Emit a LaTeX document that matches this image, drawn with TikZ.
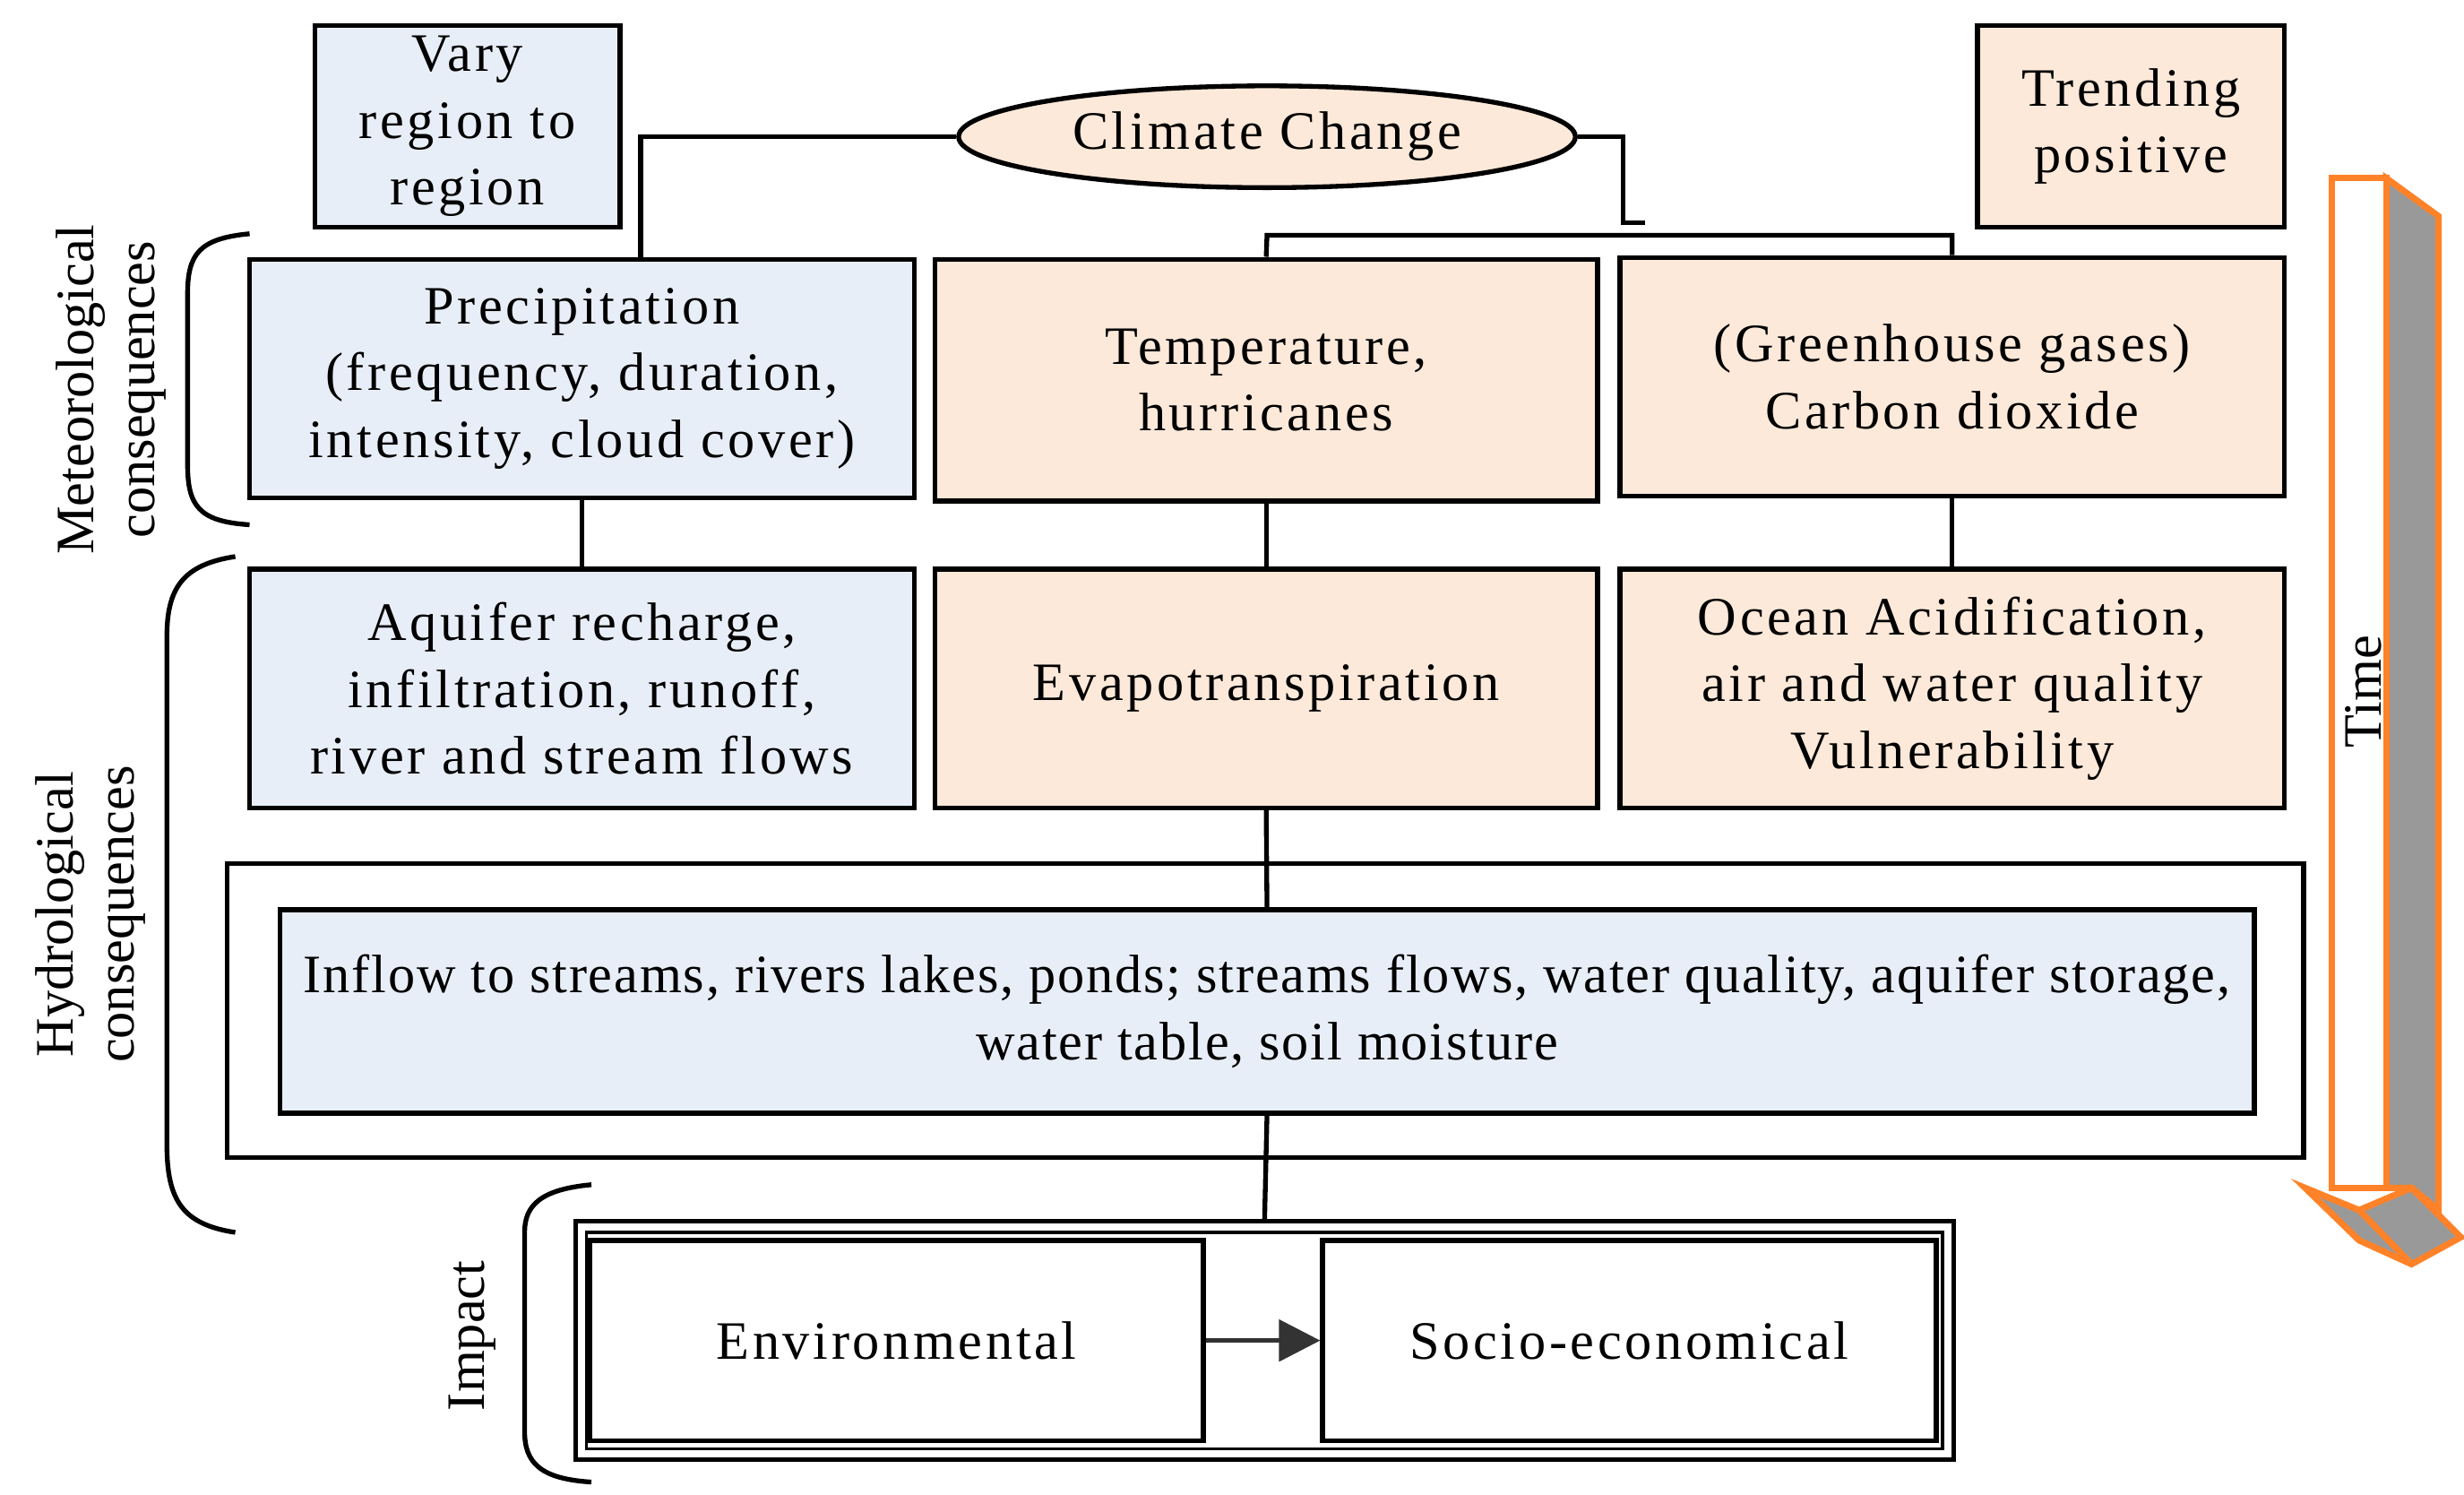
\documentclass[tikz,border=0pt]{standalone}
\usepackage{fontspec}
\setmainfont{Liberation Serif}
\newfontfamily\wide[LetterSpace=6]{Liberation Serif}
\newfontfamily\midw[LetterSpace=3]{Liberation Serif}
\usetikzlibrary{shapes.geometric,arrows.meta}
\definecolor{bl}{HTML}{E8EEF7}
\definecolor{pe}{HTML}{FDE9D9}
\definecolor{orn}{HTML}{FF8228}
\begin{document}
\begin{tikzpicture}[x=0.5pt,y=-0.5pt,line width=1.5pt,
  font=\wide\fontsize{17}{21}\selectfont,
  box/.style={draw,align=center,inner sep=0pt},
  lab/.style={font=\fontsize{17}{19}\selectfont,align=center,rotate=90}]
\useasboundingbox (0,0) rectangle (1550,940);
% top boxes
\node[box,fill=bl,minimum width=96pt,minimum height=63.5pt] (vary) at (294,79.5) {Vary\\region to\\region};
\node[box,fill=pe,minimum width=96.5pt,minimum height=63.5pt] (trend) at (1340.5,79.5) {Trending\\positive};
\node[draw,ellipse,fill=pe,minimum width=194pt,minimum height=32pt,inner sep=0pt] (cc) at (797,86) {Climate Change};
% row 1
\node[box,fill=bl,minimum width=209pt,minimum height=75pt] (pre) at (366,238) {Precipitation\\(frequency, duration,\\ intensity, cloud cover)};
\node[box,fill=pe,minimum width=208.5pt,minimum height=76pt] (tem) at (796.5,239) {Temperature,\\hurricanes};
\node[box,fill=pe,minimum width=209pt,minimum height=75pt] (ghg) at (1228,237) {(Greenhouse gases)\\Carbon dioxide};
% row 2
\node[box,fill=bl,minimum width=209pt,minimum height=75pt] (aq) at (366,433) {Aquifer recharge,\\infiltration, runoff,\\river and stream flows};
\node[box,fill=pe,minimum width=208.5pt,minimum height=75pt] (ev) at (796.5,433) {Evapotranspiration};
\node[box,fill=pe,minimum width=209pt,minimum height=75pt] (oc) at (1228,433) {Ocean Acidification,\\air and water quality\\Vulnerability};
% inflow
\node[box,minimum width=653pt,minimum height=92.5pt] (outer) at (796,635.5) {};
\node[box,fill=bl,minimum width=621pt,minimum height=64pt,font=\midw\fontsize{17}{21}\selectfont] (inf) at (797,636) {Inflow to streams, rivers lakes, ponds; streams flows,  water quality, aquifer storage,\\water table, soil moisture};
% impact
\node[box,minimum width=433.5pt,minimum height=75pt] (imp) at (795.5,843) {};
\node[box,minimum width=426.5pt,minimum height=68pt,line width=1pt] (imp2) at (795.5,843) {};
\node[box,minimum width=193pt,minimum height=63pt] (env) at (564,843) {Environmental};
\node[box,minimum width=193pt,minimum height=63pt] (soc) at (1025,843) {Socio-economical};
\draw[-{Triangle[length=13pt,width=13pt]},draw=black!80,fill=black!80] (env.east) -- (soc.west);
% connectors
\draw (cc.west) -- (403,86) -- (403,163);
\draw (cc.east) -- (1021,86) -- (1021,140) -- (1035,140);
\draw (tem.north) -- (797,148) -- (1228,148) -- (ghg.north);
\draw (pre.south) -- (aq.north);
\draw (tem.south) -- (ev.north);
\draw (ghg.south) -- (oc.north);
\draw (ev.south) -- (inf.north);
\draw (inf.south) -- (imp.north);
% brackets
\draw (157,147) .. controls (125,150) and (118,160) .. (118,185) -- (118,292) .. controls (118,318) and (125,328) .. (157,330);
\draw (148,350) .. controls (115,355) and (105,370) .. (105,400) -- (105,720) .. controls (105,755) and (115,770) .. (148,775);
\draw (372,745) .. controls (340,748) and (330,758) .. (330,775) -- (330,900) .. controls (330,920) and (340,930) .. (372,932);
\node[lab] (met) at (70,245) {Meteorological\\consequences};
\node[lab] (hyd) at (57,575) {Hydrological\\consequences};
\node[lab] (impl) at (297,840) {Impact};
% time arrow
\fill[black!40,draw=orn,line width=2pt] (1501,112) -- (1534,136) -- (1534,761) -- (1517,747) -- (1501,747) -- cycle;
\fill[white,draw=orn,line width=2pt] (1467,112) rectangle (1501,747);
\fill[black!40,draw=orn,line width=2pt] (1450,747) -- (1484,761) -- (1517,747) -- (1548,778) -- (1517,795) -- (1484,780) -- cycle;
\draw[orn,line width=2pt] (1484,761) -- (1517,795);
\node[rotate=90,font=\fontsize{17}{19}\selectfont] (time) at (1487,435) {Time};
\end{tikzpicture}
\end{document}
